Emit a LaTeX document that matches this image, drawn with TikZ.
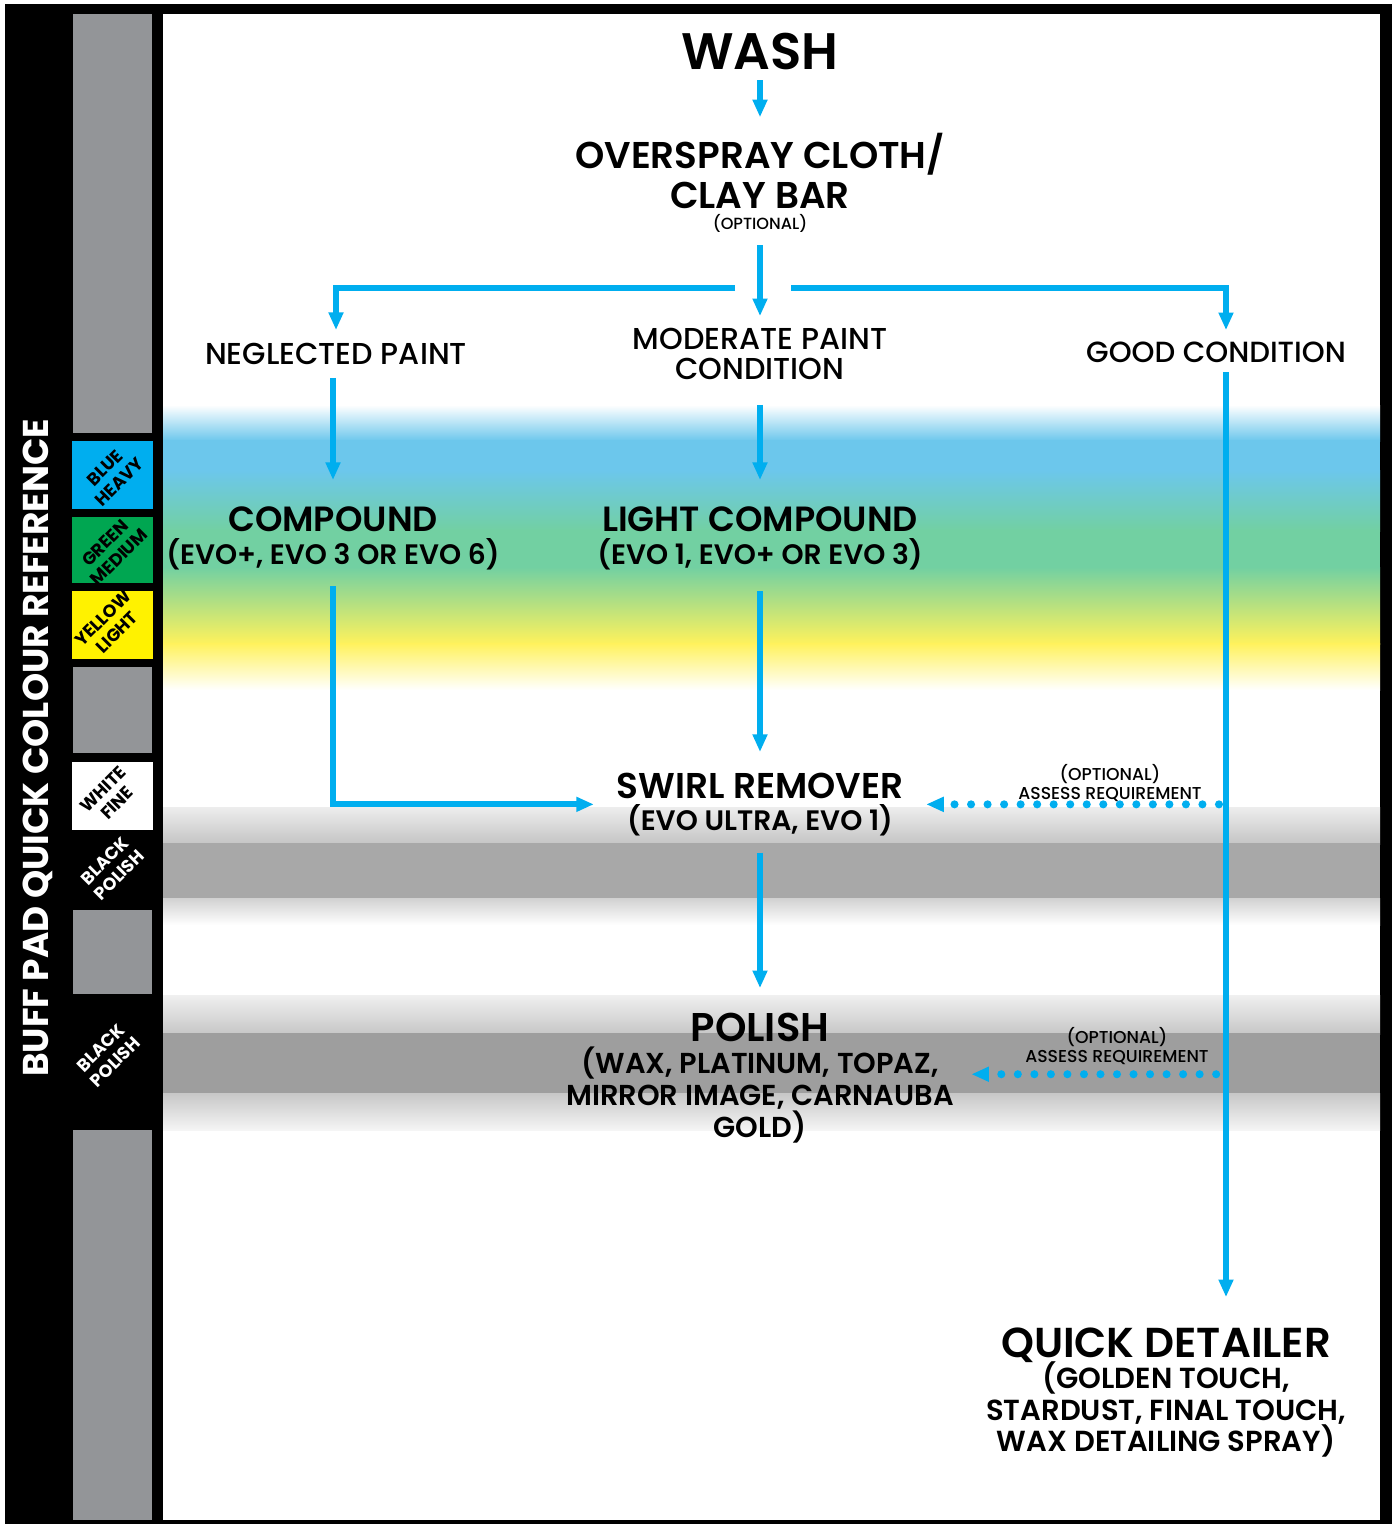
\documentclass[tikz,border=0pt]{standalone}
\usepackage{fontspec}
\setmainfont{Poppins}
\newfontfamily\popmed{Poppins Medium}
\newfontfamily\popsemi{Poppins SemiBold}
\usetikzlibrary{arrows.meta,positioning}

\definecolor{flowblue}{HTML}{00AEEF}
\definecolor{padblue}{HTML}{00AEEF}
\definecolor{padgreen}{HTML}{00A651}
\definecolor{padyellow}{HTML}{FFF200}
\definecolor{padgrey}{HTML}{939598}
\definecolor{bandblue}{HTML}{6CC7EC}
\definecolor{bandgreen}{HTML}{72D0A2}
\definecolor{bandyellow}{HTML}{FFF25C}

\tikzset{
  flow/.style={line width=1.7pt, flowblue, -{Triangle[width=4pt,length=5pt]}},
  dotflow/.style={line width=2.3pt, flowblue, line cap=round, dash pattern=on 0pt off 4.7pt, -{Triangle[width=4pt,length=5pt]}},
  padtxt/.style={rotate=45, align=center, inner sep=0pt, font=\fontsize{5}{5.7}\selectfont\bfseries},
}

\begin{document}
\begin{tikzpicture}[x=0.01cm, y=-0.01cm]
\useasboundingbox (0,0) rectangle (1392,1524);
% frame and pad column
\fill[black] (5,4) rectangle (1392,1524);
\fill[white] (163,14) rectangle (1380,1520);
\fill[padgrey] (73,14) rectangle (152,433);
\fill[padblue] (72,441) rectangle (153,509);
\fill[padgreen] (72,517) rectangle (153,583);
\fill[padyellow] (72,591) rectangle (153,659);
\fill[padgrey] (73,667) rectangle (152,753);
\fill[white] (72,762) rectangle (153,830);
\fill[padgrey] (73,910) rectangle (152,994);
\fill[padgrey] (73,1130) rectangle (152,1520);
% colour bands
\shade[top color=white, bottom color=bandblue] (163,405) rectangle (1380,441);
\fill[bandblue] (163,440) rectangle (1380,471);
\shade[top color=bandblue, bottom color=bandgreen] (163,470) rectangle (1380,531);
\fill[bandgreen] (163,530) rectangle (1380,568);
\shade[top color=bandgreen, bottom color=bandyellow] (163,567) rectangle (1380,644);
\shade[top color=bandyellow, bottom color=white] (163,643) rectangle (1380,690);
\shade[top color=black!7, bottom color=black!23] (163,807) rectangle (1380,844);
\fill[black!34] (163,843) rectangle (1380,899);
\shade[top color=black!18, bottom color=white] (163,898) rectangle (1380,925);
\shade[top color=black!6, bottom color=black!22] (163,995) rectangle (1380,1034);
\fill[black!38] (163,1033) rectangle (1380,1094);
\shade[top color=black!22, bottom color=black!4] (163,1093) rectangle (1380,1130);

% pad labels
\node[white, rotate=90, inner sep=0pt, font=\fontsize{10.2}{11}\selectfont\bfseries] (padref) at (38,748) {BUFF PAD QUICK COLOUR REFERENCE};
\node[padtxt] (pblue) at (112,475) {BLUE\\HEAVY};
\node[padtxt] (pgreen) at (112,550) {GREEN\\MEDIUM};
\node[padtxt] (pyellow) at (110,625) {YELLOW\\LIGHT};
\node[padtxt] (pwhite) at (110,796) {WHITE\\FINE};
\node[padtxt, white] (pblack1) at (112,868) {BLACK\\POLISH};
\node[padtxt, white] (pblack2) at (108,1055) {BLACK\\POLISH};

% steps
\node[anchor=north, inner sep=0pt, font=\fontsize{14.6}{17}\selectfont\popsemi] (wash) at (760,32) {WASH};
\node[anchor=north, inner sep=0pt, align=center, font=\fontsize{10.6}{11.6}\selectfont\popsemi] (clay) at (760,132) {OVERSPRAY CLOTH/\\CLAY BAR};
\node[anchor=north, inner sep=0pt, font=\fontsize{4.6}{5}\selectfont\popmed] (clayopt) at (760,214) {(OPTIONAL)};
\node[anchor=north, inner sep=0pt, font=\fontsize{8.6}{8.8}\selectfont\popmed] (neg) at (336,343) {NEGLECTED PAINT};
\node[anchor=north, inner sep=0pt, align=center, font=\fontsize{8.6}{8.8}\selectfont\popmed] (mod) at (760,327) {MODERATE PAINT\\CONDITION};
\node[anchor=north, inner sep=0pt, font=\fontsize{8.3}{8.8}\selectfont\popmed] (good) at (1216,341) {GOOD CONDITION};
\node[anchor=north, inner sep=0pt, align=center, font=\fontsize{9.95}{9.5}\selectfont\popsemi] (cmp) at (333,506) {COMPOUND\\{\fontsize{8}{9.5}\selectfont(EVO+, EVO 3 OR EVO 6)}};
\node[anchor=north, inner sep=0pt, align=center, font=\fontsize{9.95}{9.5}\selectfont\popsemi] (lcmp) at (760,506) {LIGHT COMPOUND\\{\fontsize{8}{9.5}\selectfont(EVO 1, EVO+ OR EVO 3)}};
\node[anchor=north, inner sep=0pt, align=center, font=\fontsize{10.2}{9.2}\selectfont\popsemi] (swirl) at (760,772) {SWIRL REMOVER\\{\fontsize{8}{9.2}\selectfont(EVO ULTRA, EVO 1)}};
\node[anchor=north, inner sep=0pt, align=center, font=\fontsize{11.4}{9.1}\selectfont\popsemi] (pol) at (760,1012) {POLISH\\[0pt]{\fontsize{8.2}{9.1}\selectfont(WAX, PLATINUM, TOPAZ,}\\{\fontsize{8.2}{9.1}\selectfont MIRROR IMAGE, CARNAUBA}\\{\fontsize{8.2}{9.1}\selectfont GOLD)}};
\node[anchor=north, inner sep=0pt, align=center, font=\fontsize{11.9}{9.0}\selectfont\popsemi] (qd) at (1166,1327) {QUICK DETAILER\\[-1.2pt]{\fontsize{8.25}{9.0}\selectfont(GOLDEN TOUCH,}\\{\fontsize{8.25}{9.0}\selectfont STARDUST, FINAL TOUCH,}\\{\fontsize{8.25}{9.0}\selectfont WAX DETAILING SPRAY)}};
\node[anchor=north, inner sep=0pt, align=center, font=\fontsize{4.9}{5.4}\selectfont\popmed] (assess1) at (1110,764) {(OPTIONAL)\\ASSESS REQUIREMENT};
\node[anchor=north, inner sep=0pt, align=center, font=\fontsize{4.9}{5.4}\selectfont\popmed] (assess2) at (1117,1027) {(OPTIONAL)\\ASSESS REQUIREMENT};

% connectors
\coordinate (lsplit) at (735,288);
\coordinate (rsplit) at (791,288);
\coordinate (rline) at (1226,288);
\draw[flow, shorten <=2.85pt, shorten >=4.2pt] (wash.south) -- (clay.north);
\draw[flow, shorten <=3.4pt, shorten >=3.1pt] (clayopt.south) -- (mod.north);
\draw[flow, shorten >=3.7pt] (lsplit) -| (neg.north);
\draw[flow, shorten >=3.1pt] (rsplit) -- (rline) -- (rline |- good.north);
\draw[flow, shorten <=3.4pt, shorten >=7.4pt] (neg.south -| cmp) -- (cmp.north);
\draw[flow, shorten <=6.8pt, shorten >=7.4pt] (mod.south) -- (lcmp.north);
\draw[flow, shorten <=4.3pt, shorten >=6.3pt] (cmp.south) -- (cmp |- swirl) -- (swirl.west);
\draw[flow, shorten <=5.7pt, shorten >=5.7pt] (lcmp.south) -- (swirl.north);
\draw[flow, shorten <=2.6pt, shorten >=8.5pt] (rline |- good.south) -- (rline |- qd.north);
\draw[dotflow, shorten <=2pt, shorten >=6.3pt] (rline |- swirl) -- (swirl.east);
\draw[flow, shorten <=4.5pt, shorten >=6.8pt] (swirl.south) -- (pol.north);
\draw[dotflow, shorten <=2.8pt, shorten >=4.8pt] ([yshift=1pt]rline |- pol) -- ([yshift=1pt]pol.east);
\end{tikzpicture}
\end{document}
